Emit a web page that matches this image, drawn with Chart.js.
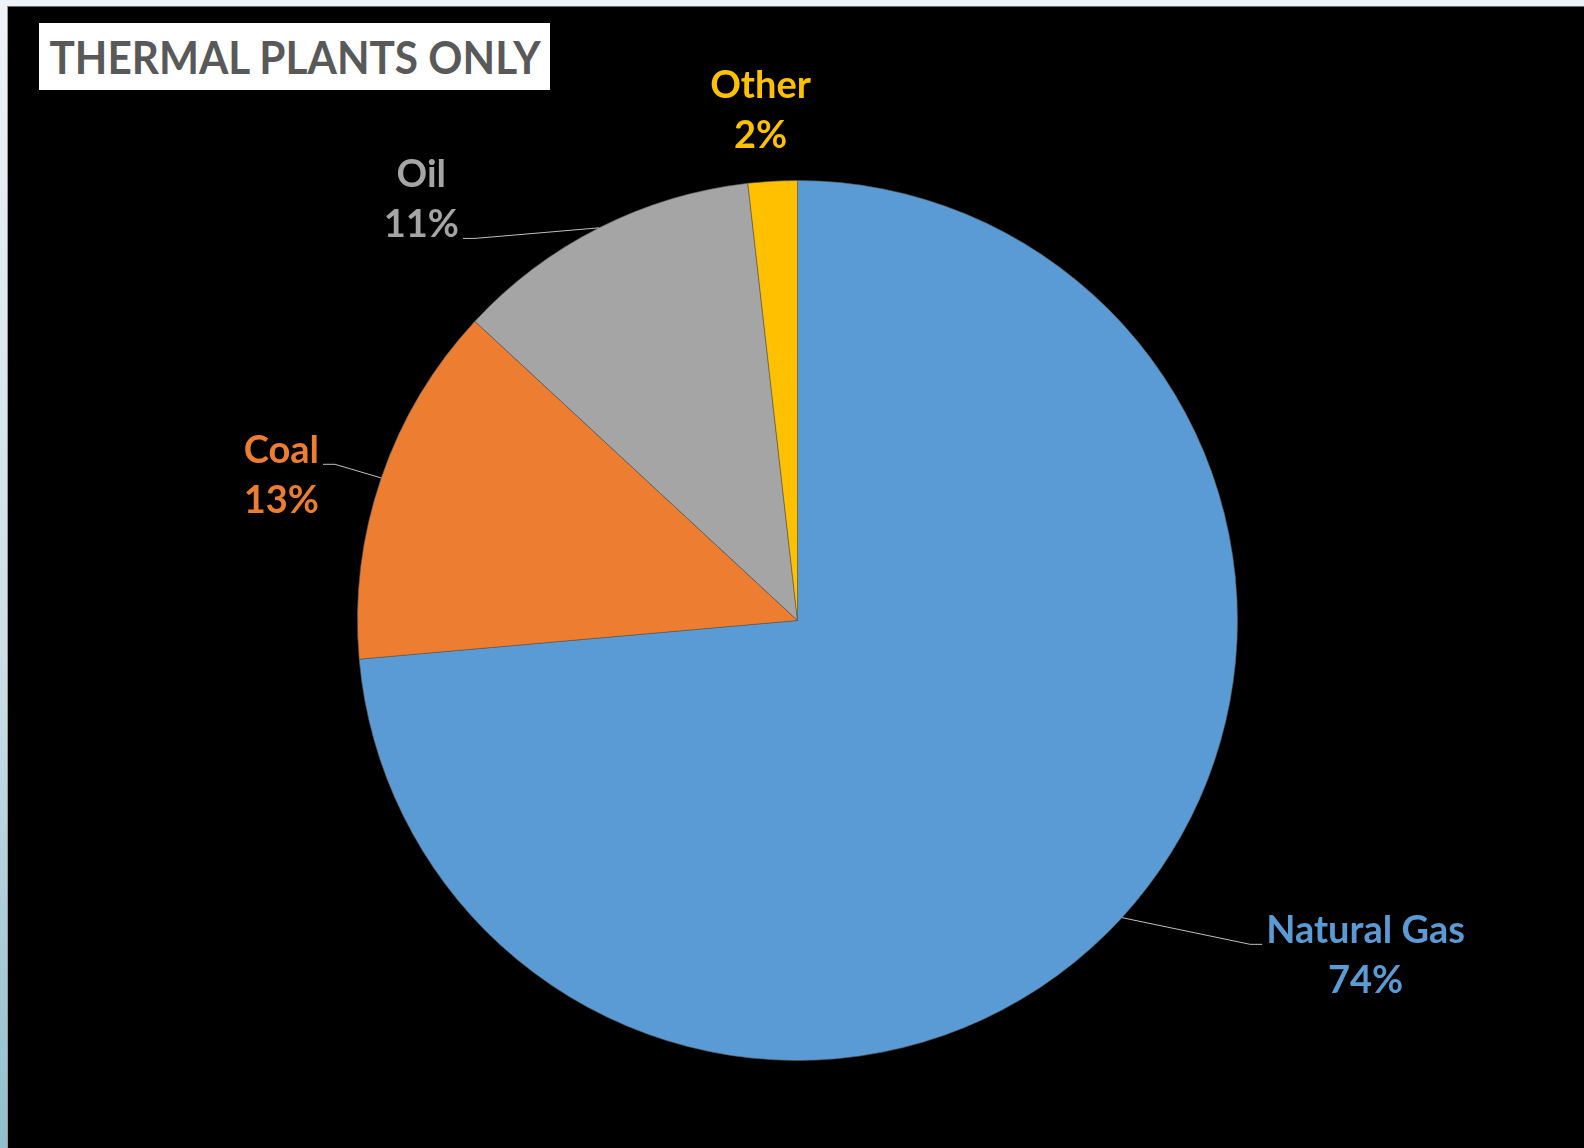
<!DOCTYPE html>
<html>
<head>
<meta charset="utf-8">
<script src="https://cdn.jsdelivr.net/npm/chart.js@4"></script>
<style>
  html, body { margin: 0; padding: 0; }
  body {
    width: 1584px; height: 1148px; overflow: hidden; position: relative;
    background: linear-gradient(180deg, #eef3f8 0%, #c9dde6 60%, #8fbfcc 100%);
  }
  #frame {
    position: absolute; left: 7px; top: 6px; right: 0; bottom: 0;
    background: #000; border-left: 1px solid #9a9a9a; border-top: 1px solid #6a6a6a;
  }
  #title {
    position: absolute; left: 31px; top: 16px; width: 511px; height: 67px;
    background: #fff; color: #595959;
    font: bold 46px Lato, "Open Sans", sans-serif;
    line-height: 67px; white-space: nowrap;
  }
  #title span {
    position: absolute; left: 50%; top: 0;
    transform: translateX(-50%) scaleX(0.92);
  }
  canvas { position: absolute; left: 0; top: 0; }
</style>
</head>
<body>
<div id="frame">
  <canvas id="chart" width="1576" height="1141"></canvas>
  <div id="title"><span>THERMAL PLANTS ONLY</span></div>
</div>
<script>
const categories = ["Natural Gas", "Coal", "Oil", "Other"];
const shares = [73.6, 13.3, 11.3, 1.8];
const colors = ["#5B9BD5", "#ED7D31", "#A5A5A5", "#FFC000"];

// label block centre, relative to pie centre, in units of radius (Excel's manual placement)
const labelPlacement = [
  { dx: 1.291, dy: 0.761, leader: true },
  { dx: -1.173, dy: -0.33, leader: true },
  { dx: -0.855, dy: -0.957, leader: true },
  { dx: -0.084, dy: -1.161, leader: false },
];

const total = shares.reduce((a, b) => a + b, 0);

const pieLabels = {
  id: "pieLabels",
  afterDatasetsDraw(chart) {
    const { ctx } = chart;
    const meta = chart.getDatasetMeta(0);
    ctx.save();
    ctx.font = "bold 38px Lato, 'Open Sans', sans-serif";
    ctx.textAlign = "center";
    ctx.textBaseline = "alphabetic";
    const lineGap = 50;

    meta.data.forEach((arc, i) => {
      const { x, y, outerRadius, startAngle, endAngle } = arc.getProps(
        ["x", "y", "outerRadius", "startAngle", "endAngle"], true);
      const place = labelPlacement[i];
      const cx = x + place.dx * outerRadius;
      const cy = y + place.dy * outerRadius;
      const lines = [categories[i], Math.round((shares[i] / total) * 100) + "%"];
      const baselines = [cy - lineGap / 2 + 13, cy + lineGap / 2 + 13];

      ctx.fillStyle = colors[i];
      lines.forEach((t, k) => ctx.fillText(t, cx, baselines[k]));

      if (place.leader) {
        const widths = lines.map((t) => ctx.measureText(t).width);
        const k = widths[0] >= widths[1] ? 0 : 1;
        const left = place.dx > 0;
        const ex = left ? cx - widths[k] / 2 - 4 : cx + widths[k] / 2 + 4;
        const ey = baselines[k] + 1;
        const mid = (startAngle + endAngle) / 2;
        const sx = x + Math.cos(mid) * outerRadius;
        const sy = y + Math.sin(mid) * outerRadius;
        ctx.strokeStyle = "#bfbfbf";
        ctx.lineWidth = 1;
        ctx.beginPath();
        ctx.moveTo(sx, sy);
        ctx.lineTo(left ? ex - 12 : ex + 12, ey);
        ctx.lineTo(ex, ey);
        ctx.stroke();
      }
    });
    ctx.restore();
  },
};

new Chart(document.getElementById("chart"), {
  type: "pie",
  data: {
    labels: categories,
    datasets: [
      {
        data: shares,
        backgroundColor: colors,
        borderColor: "rgba(90, 90, 90, 0.6)",
        borderWidth: 1,
      },
    ],
  },
  options: {
    responsive: false,
    animation: false,
    layout: { padding: { top: 173, bottom: 87, left: 3, right: 0 } },
    plugins: {
      legend: { display: false },
      tooltip: { enabled: false },
    },
  },
  plugins: [pieLabels],
});
</script>
</body>
</html>
